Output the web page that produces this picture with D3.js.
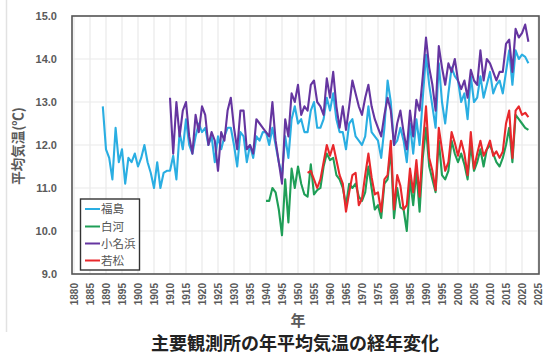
<!DOCTYPE html>
<html>
<head>
<meta charset="utf-8">
<script src="https://cdn.jsdelivr.net/npm/d3@7"></script>
<style>
  html, body { margin: 0; padding: 0; background: #fff; }
  svg { display: block; }
</style>
</head>
<body>
<svg id="chart" width="543" height="356"></svg>
<script>
// Annual mean temperature (°C) at four observatories
const fukushimaStart = 1889;
const fukushima = [
  12.9, 11.9, 11.7, 11.2, 12.4, 11.6, 11.9, 11.1, 11.7, 11.6,
  11.8, 11.5, 11.7, 12.0, 11.6, 11.35, 11.0, 11.6, 11.0, 11.35,
  11.4, 11.4, 11.75, 11.2, 12.3, 11.9, 12.6, 12.0, 11.8, 12.2,
  12.5, 12.3, 12.4, 12.0, 12.2, 11.6, 12.2, 11.9, 12.2, 12.4,
  12.4, 12.0, 11.5, 12.3, 12.2, 11.6, 12.0, 11.7, 12.2, 12.1,
  12.3, 12.3, 12.0, 12.4, 12.0, 11.6, 11.3, 12.2, 11.7, 12.6,
  12.9, 12.5, 12.6, 12.3, 12.3, 12.8, 13.0, 12.4, 12.4, 12.6,
  13.1, 12.8, 13.2, 12.6, 12.3, 12.3, 11.9, 12.5, 12.6, 12.2,
  12.1, 12.0, 12.2, 12.9, 12.3, 12.2, 12.1, 11.7, 12.4, 13.5,
  13.0, 12.0, 12.1, 12.4, 12.1, 11.6, 12.5, 11.8, 12.6, 12.0,
  13.1, 14.1, 13.4, 12.9, 12.4, 13.9, 13.0, 12.5, 13.2, 13.8,
  13.6, 13.5, 13.0, 13.2, 12.6, 13.6, 13.0, 13.1, 13.6, 13.1,
  13.4, 13.7, 13.2, 13.4, 13.5, 13.2, 13.7, 14.2, 13.4, 14.2,
  14.0, 14.1, 14.05, 13.9
];

const shirakawaStart = 1940;
const shirakawa = [
  10.7, 10.7, 11.0, 10.9, 10.5, 9.9, 11.2, 10.2, 11.45, 11.0,
  11.5, 11.1, 10.85, 10.8, 11.55, 10.85, 10.95, 11.0, 11.5, 11.8,
  11.65, 11.7, 11.3, 11.2, 11.0, 10.6, 11.1, 11.0, 11.1, 10.8,
  10.7, 10.9, 11.5, 11.0, 10.5, 10.6, 10.3, 11.1, 11.2, 11.9,
  10.3, 11.0, 10.55, 10.5, 10.0, 11.2, 10.6, 11.4, 10.45, 11.7,
  12.4, 11.5, 11.2, 10.9, 12.1, 11.3, 11.2, 11.4, 12.1, 11.8,
  11.6, 11.8, 11.55, 11.2, 12.0, 11.4, 11.6, 11.9, 11.5, 11.9,
  12.0, 11.8, 11.6, 11.5, 11.7, 12.0, 12.4, 11.6, 12.7, 12.6,
  12.5, 12.4, 12.35
];

const onahamaStart = 1910;
const onahama = [
  13.1, 11.8, 13.0, 12.2, 12.8, 13.0, 12.2, 11.8, 12.7, 12.3,
  12.9, 12.7, 12.0, 12.3, 12.1, 11.4, 12.3, 12.1, 12.8, 13.1,
  12.4, 11.9, 12.8, 12.8, 11.9, 12.0, 11.8, 12.6, 12.5, 12.4,
  12.3, 12.2, 13.0, 12.1, 11.6, 11.1, 12.6, 12.2, 13.2, 13.0,
  13.4, 12.7, 12.9, 12.8, 13.4, 13.5, 13.0, 12.9, 12.7, 13.55,
  13.1, 13.7, 12.9, 12.4, 12.9, 12.35, 12.9, 13.5, 13.2, 12.9,
  12.7, 13.1, 13.4, 12.9, 12.6, 12.4, 12.2, 12.7, 13.1, 12.8,
  12.0, 12.5, 12.8, 12.3, 11.9, 12.8, 12.2, 13.05, 12.8, 13.6,
  14.5, 13.8, 13.4, 12.8, 14.3, 13.8, 13.4, 13.9, 13.7, 14.0,
  13.5, 13.3, 13.5, 13.1, 13.75, 13.5, 13.4, 14.2, 13.5, 14.0,
  13.9, 13.7, 13.5, 13.7, 13.7, 14.35, 14.45, 13.7, 14.7, 14.5,
  14.6, 14.8, 14.4
];

const wakamatsuStart = 1953;
const wakamatsu = [
  11.35, 11.4, 11.2, 11.0, 11.2, 11.6, 12.0, 11.75, 12.0, 11.65,
  11.3, 11.1, 10.45, 10.9, 11.3, 11.35, 10.6, 10.75, 11.3, 11.8,
  11.25, 10.85, 10.9, 10.45, 11.2, 11.3, 12.1, 10.5, 11.3, 11.05,
  10.5, 10.6, 11.45, 10.9, 11.65, 10.8, 12.0, 12.9, 11.7, 11.4,
  10.95, 12.4, 11.9, 11.4, 11.6, 12.3, 12.05, 11.75, 12.1, 11.8,
  11.3, 12.3, 11.45, 11.8, 12.1, 11.75, 11.9, 12.1, 11.75, 11.85,
  11.7, 11.85, 12.5, 12.8, 11.7, 12.8, 12.9, 12.7, 12.75, 12.65
];

const stationNames = ["福島", "白河", "小名浜", "若松"];
const stationColors = ["#2aaee2", "#1f9e57", "#6535a0", "#e8282c"];
const xTicks = d3.range(1880, 2026, 5);
const yTicks = [9, 10, 11, 12, 13, 14, 15];

const series = [
  { name: stationNames[0], color: stationColors[0], start: fukushimaStart, values: fukushima },
  { name: stationNames[1], color: stationColors[1], start: shirakawaStart, values: shirakawa },
  { name: stationNames[2], color: stationColors[2], start: onahamaStart, values: onahama },
  { name: stationNames[3], color: stationColors[3], start: wakamatsuStart, values: wakamatsu }
];

const svg = d3.select("#chart");
const plot = { left: 72, right: 539, top: 16, bottom: 274 };

const x = d3.scaleLinear().domain([1880, 2025]).range([74, 538]);
const y = d3.scaleLinear().domain([9, 15]).range([plot.bottom, plot.top]);

// faint page edge on the left
svg.append("line")
  .attr("x1", 6.5).attr("x2", 6.5).attr("y1", 0).attr("y2", 332)
  .attr("stroke", "#e2e2e2").attr("stroke-width", 1.5);

// grid
const grid = svg.append("g");
grid.selectAll("line.v").data(xTicks).join("line")
  .attr("class", "v")
  .attr("x1", d => x(d)).attr("x2", d => x(d))
  .attr("y1", plot.top).attr("y2", plot.bottom)
  .attr("stroke", "#e9e9e9").attr("stroke-width", 1.2);
grid.selectAll("line.h").data(yTicks).join("line")
  .attr("class", "h")
  .attr("x1", plot.left).attr("x2", plot.right)
  .attr("y1", d => y(d)).attr("y2", d => y(d))
  .attr("stroke", "#e9e9e9").attr("stroke-width", 1.2);

// y axis labels
const yAxis = d3.axisLeft(y).tickValues(yTicks).tickFormat(d3.format(".1f")).tickSize(0).tickPadding(15);
const gy = svg.append("g").attr("transform", `translate(${plot.left},0)`).call(yAxis);
gy.select(".domain").remove();
gy.selectAll("text")
  .attr("font-family", "Liberation Sans, Arial, sans-serif")
  .attr("font-size", 11).attr("font-weight", "bold").attr("fill", "#5a5a5a");

// x axis labels (rotated)
const xAxis = d3.axisBottom(x).tickValues(xTicks).tickFormat(d3.format("d")).tickSize(0);
const gx = svg.append("g").attr("transform", `translate(0,${plot.bottom})`).call(xAxis);
gx.select(".domain").remove();
gx.selectAll("text")
  .attr("font-family", "Liberation Sans, Arial, sans-serif")
  .attr("font-size", 10).attr("font-weight", "bold").attr("fill", "#5a5a5a")
  .attr("transform", "rotate(-90)")
  .attr("text-anchor", "end")
  .attr("x", -9).attr("y", 0).attr("dy", "0.35em");

// lines
const line = d3.line()
  .x((d) => x(d.year))
  .y((d) => y(d.value));

const lines = svg.append("g");
series.forEach(s => {
  const pts = s.values.map((v, i) => ({ year: s.start + i, value: v }));
  lines.append("path")
    .datum(pts)
    .attr("fill", "none")
    .attr("stroke", s.color)
    .attr("stroke-width", 2.1)
    .attr("stroke-linejoin", "round")
    .attr("d", line);
});

// plot frame
svg.append("rect")
  .attr("x", plot.left).attr("y", plot.top)
  .attr("width", plot.right - plot.left).attr("height", plot.bottom - plot.top)
  .attr("fill", "none").attr("stroke", "#555").attr("stroke-width", 1.6);

// legend
const lg = svg.append("g");
lg.append("rect")
  .attr("x", 80.5).attr("y", 199).attr("width", 59).attr("height", 71)
  .attr("fill", "#fff").attr("stroke", "#333").attr("stroke-width", 1.4);
const rowY = [209, 226.5, 243.5, 260.5];
series.forEach((s, i) => {
  lg.append("line")
    .attr("x1", 85).attr("x2", 100)
    .attr("y1", rowY[i]).attr("y2", rowY[i])
    .attr("stroke", s.color).attr("stroke-width", 2);
  lg.append("text")
    .attr("x", 101).attr("y", rowY[i]).attr("dy", "0.36em")
    .attr("font-family", "Noto Sans CJK JP, sans-serif")
    .attr("font-size", 11.5).attr("fill", "#555")
    .text(s.name);
});

// axis titles
svg.append("text")
  .attr("transform", "translate(23,146) rotate(-90)")
  .attr("text-anchor", "middle")
  .attr("font-family", "Noto Sans CJK JP, sans-serif")
  .attr("font-size", 13.5).attr("font-weight", "bold").attr("fill", "#5a5a5a")
  .text("平均気温(℃)");

svg.append("text")
  .attr("x", 298).attr("y", 326)
  .attr("text-anchor", "middle")
  .attr("font-family", "Noto Sans CJK JP, sans-serif")
  .attr("font-size", 15).attr("font-weight", "bold").attr("fill", "#5a5a5a")
  .text("年");

svg.append("text")
  .attr("x", 295).attr("y", 350)
  .attr("text-anchor", "middle")
  .attr("font-family", "Noto Sans CJK JP, sans-serif")
  .attr("font-size", 18).attr("font-weight", "bold").attr("fill", "#222")
  .text("主要観測所の年平均気温の経年変化");
</script>
</body>
</html>
